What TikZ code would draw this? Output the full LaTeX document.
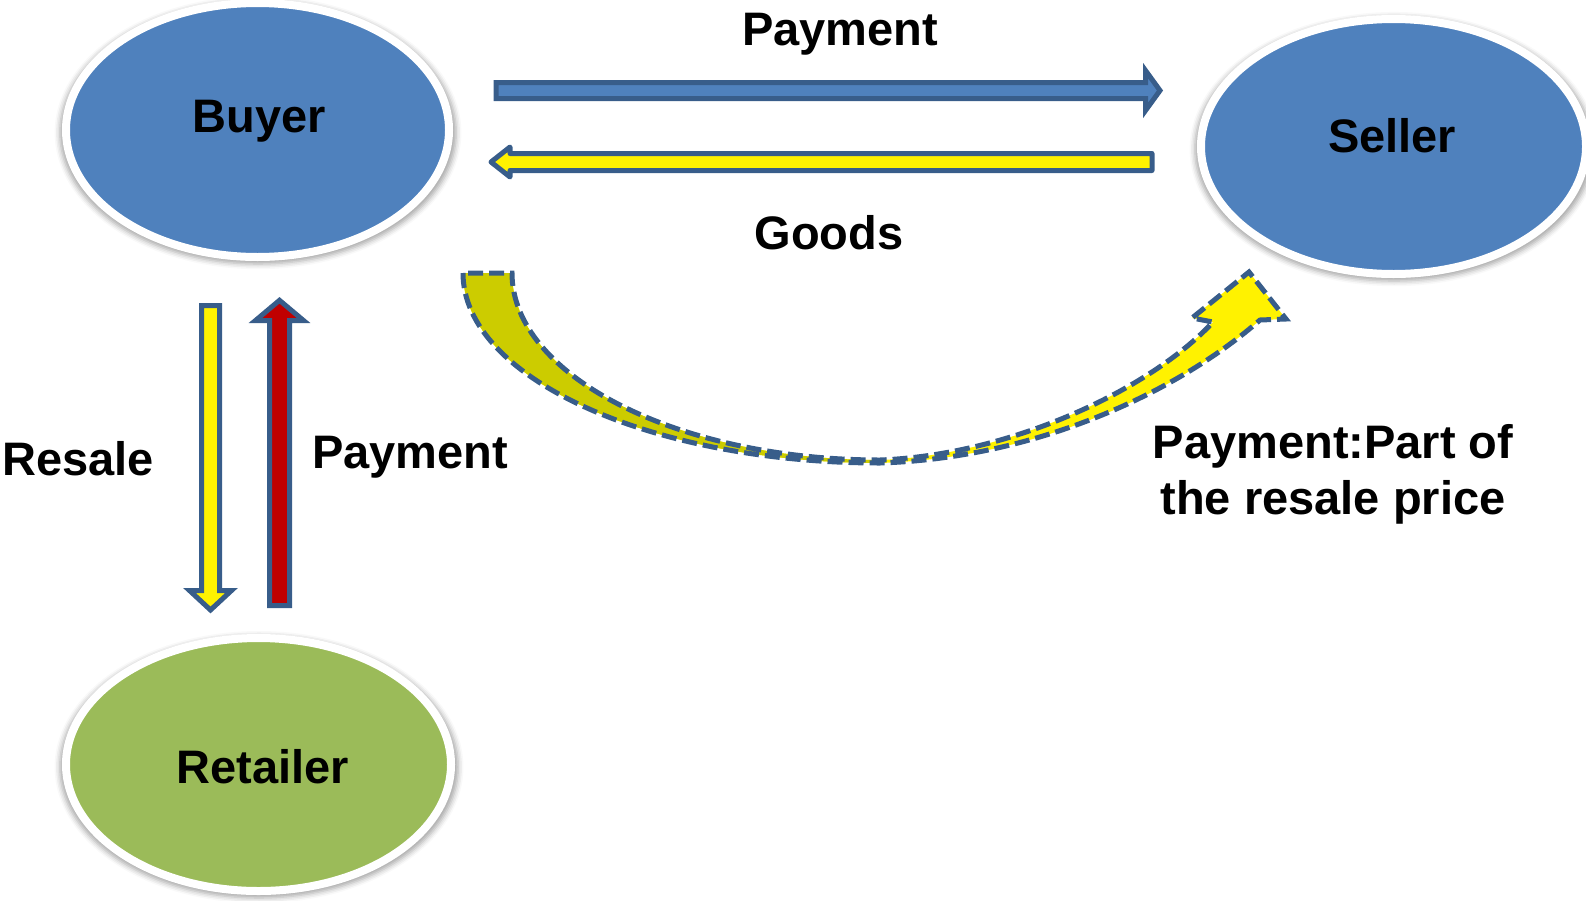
\documentclass[tikz,border=0pt]{standalone}
\usepackage{fontspec}
\setmainfont{Liberation Sans}
\usetikzlibrary{shapes.geometric,shadows.blur,calc}
\definecolor{nodeblue}{HTML}{4F81BD}
\definecolor{edgeblue}{HTML}{385D8A}
\definecolor{leafgreen}{HTML}{9BBB59}
\definecolor{darkred}{HTML}{C00000}
\definecolor{olivefill}{HTML}{CCCC00}

\begin{document}
\begin{tikzpicture}[x=1pt,y=-1pt,
  party/.style={ellipse, draw=white, line width=8pt, inner sep=0pt,
    blur shadow={shadow xshift=0.5pt, shadow yshift=-2.5pt, shadow scale=1.035,
                 shadow blur radius=5pt, shadow opacity=35}},
  lbl/.style={font=\fontsize{47}{56}\selectfont\bfseries, inner sep=0pt, text=black},
  blockarrow/.style={draw=edgeblue, line width=5pt, miter limit=10},
  curvearrow/.style={draw=edgeblue, line width=5pt, dash pattern=on 15pt off 6pt}]

\useasboundingbox (0,0) rectangle (1586,900);

% the three parties
\node[party, fill=nodeblue, minimum width=383pt, minimum height=254pt] (buyer) at (257.5,130) {};
\node[party, fill=nodeblue, minimum width=385pt, minimum height=255pt] (seller) at (1393.5,146.5) {};
\node[party, fill=leafgreen, minimum width=385pt, minimum height=253pt] (retailer) at (258.5,764.5) {};

\node[lbl, anchor=base] (buyertext) at (259,132) {Buyer};
\node[lbl, anchor=base] (sellertext) at (1392,152) {Seller};
\node[lbl, anchor=base] (retailertext) at (263,783) {Retailer};

% payment: buyer -> seller
\coordinate (payS) at (496,90.5);
\coordinate (payE) at (1160,90.5);
\draw[blockarrow, fill=nodeblue]
  ($(payS)+(0,-8)$) -- ($(payE)+(-14.5,-8)$) -- ($(payE)+(-14.5,-20)$) -- (payE)
  -- ($(payE)+(-14.5,20)$) -- ($(payE)+(-14.5,8)$) -- ($(payS)+(0,8)$) -- cycle;

% goods: seller -> buyer
\coordinate (goodsS) at (1152,162);
\coordinate (goodsE) at (491,162);
\draw[blockarrow, fill=yellow, line join=round]
  ($(goodsS)+(0,-8.5)$) -- ($(goodsE)+(19,-8.5)$) -- ($(goodsE)+(19,-15)$) -- (goodsE)
  -- ($(goodsE)+(19,15)$) -- ($(goodsE)+(19,8.5)$) -- ($(goodsS)+(0,8.5)$) -- cycle;

% resale: buyer -> retailer
\coordinate (resS) at (210.5,305.5);
\coordinate (resE) at (210.5,610);
\draw[blockarrow, fill=yellow]
  ($(resS)+(-9,0)$) -- ($(resE)+(-9,-19.5)$) -- ($(resE)+(-21,-19.5)$) -- (resE)
  -- ($(resE)+(21,-19.5)$) -- ($(resE)+(9,-19.5)$) -- ($(resS)+(9,0)$) -- cycle;

% payment: retailer -> buyer
\coordinate (rpayS) at (279.5,605.5);
\coordinate (rpayE) at (279.5,300.3);
\draw[blockarrow, fill=darkred]
  ($(rpayS)+(-10,0)$) -- ($(rpayE)+(-10,20.2)$) -- ($(rpayE)+(-24,20.2)$) -- (rpayE)
  -- ($(rpayE)+(24,20.2)$) -- ($(rpayE)+(10,20.2)$) -- ($(rpayS)+(10,0)$) -- cycle;

% curved arrow: part of the resale price passed on to the seller
\coordinate (cOuterTop) at (463,273);
\coordinate (cInnerTop) at (512,273);
\coordinate (cLow) at (880,463);
\coordinate (cLowIn) at (880,460);
\coordinate (cRightOut) at (1260,320);
\coordinate (cRightIn) at (1213,322);
\coordinate (cBarbR) at (1286,319);
\coordinate (cTip) at (1249,272);
\coordinate (cBarbL) at (1192,318);

\fill[yellow]
  (cOuterTop) .. controls (463,378) and (651,463) .. (cLow)
  .. controls (1040,458) and (1180,390) .. (cRightOut)
  -- (cBarbR) -- (cTip) -- (cBarbL) -- (cRightIn)
  .. controls (1150,390) and (1010,455) .. (cLowIn)
  .. controls (678,460) and (512,376) .. (cInnerTop) -- cycle;
\fill[olivefill]
  (cOuterTop) .. controls (463,378) and (651,463) .. (cLow)
  -- (cLowIn) .. controls (678,460) and (512,376) .. (cInnerTop) -- cycle;
\draw[curvearrow]
  (cOuterTop) .. controls (463,378) and (651,463) .. (cLow)
  .. controls (1040,458) and (1180,390) .. (cRightOut)
  -- (cBarbR) -- (cTip) -- (cBarbL) -- (cRightIn)
  .. controls (1150,390) and (1010,455) .. (cLowIn)
  .. controls (678,460) and (512,376) .. (cInnerTop) -- cycle;

% flow labels
\node[lbl, anchor=base] (paytext) at (840,45) {Payment};
\node[lbl, anchor=base] (goodstext) at (829,249) {Goods};
\node[lbl, anchor=base] (resaletext) at (78,475) {Resale};
\node[lbl, anchor=base] (rpaytext) at (410,468) {Payment};
\node[lbl, align=center] (parttext) at (1333,474) {Payment:Part of\\the resale price};
\end{tikzpicture}
\end{document}
